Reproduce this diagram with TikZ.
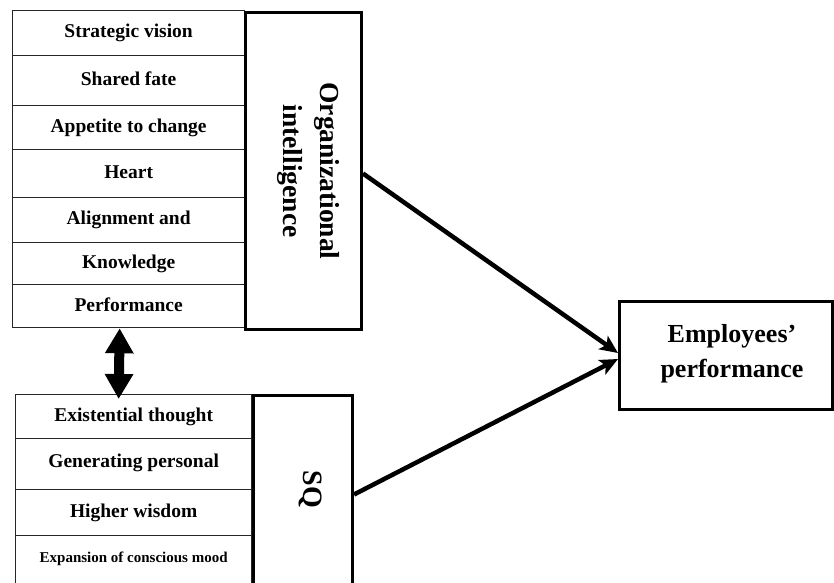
\documentclass[tikz,border=0pt]{standalone}
\usepackage{fontspec}
\setmainfont{Liberation Serif}
\usetikzlibrary{arrows.meta}
\newcommand{\up}[2][3pt]{\raisebox{#1}{#2}}
\begin{document}
\begin{tikzpicture}[x=1pt,y=-1pt,
  rowbox/.style={draw=black!85,line width=1.3pt,rectangle,inner sep=0pt,anchor=north west,
     font=\fontsize{19.5}{22}\selectfont\bfseries,align=center},
  bigbox/.style={draw=black,line width=3pt,rectangle,inner sep=0pt,anchor=north west},
  bigtext/.style={font=\fontsize{26}{35}\selectfont\bfseries,align=center},
  arr/.style={line width=4.5pt,-{Stealth[length=18pt,width=16pt,inset=4pt]}},
  dbl/.style={line width=10pt,{Triangle[length=25pt,width=27pt]}-{Triangle[length=25pt,width=27pt]}}]
\useasboundingbox (0,0) rectangle (834,582);
\begin{scope}
\clip (0,0) rectangle (834,582);
% top list
\node[rowbox,minimum width=232pt,minimum height=45pt] (r1) at (12,10) {\up{Strategic vision}};
\node[rowbox,minimum width=232pt,minimum height=50pt] (r2) at (12,55) {\up[4pt]{Shared fate}};
\node[rowbox,minimum width=232pt,minimum height=44pt] (r3) at (12,105) {\up{Appetite to change}};
\node[rowbox,minimum width=232pt,minimum height=48pt] (r4) at (12,149) {\up[4pt]{Heart}};
\node[rowbox,minimum width=232pt,minimum height=45pt] (r5) at (12,197) {\up{Alignment and}};
\node[rowbox,minimum width=232pt,minimum height=42pt] (r6) at (12,242) {\up{Knowledge}};
\node[rowbox,minimum width=232pt,minimum height=43pt] (r7) at (12,284) {\up{Performance}};
\node[bigbox,minimum width=116pt,minimum height=317pt] (oi) at (244,11) {};
\node[bigtext,rotate=-90,font=\fontsize{27.5}{36}\selectfont\bfseries] (oit) at ([xshift=5pt]oi.center) {Organizational\\intelligence};
% bottom list
\node[rowbox,minimum width=236pt,minimum height=44pt] (s1) at (15,394) {\up{Existential thought}};
\node[rowbox,minimum width=236pt,minimum height=51pt] (s2) at (15,438) {\up[6pt]{Generating personal}};
\node[rowbox,minimum width=236pt,minimum height=46pt] (s3) at (15,489) {\up[4pt]{Higher wisdom}};
\node[rowbox,minimum width=236pt,minimum height=55pt,font=\fontsize{15}{17}\selectfont\bfseries] (s4) at (15,535) {\up[12pt]{Expansion of conscious mood}};
\node[bigbox,minimum width=99pt,minimum height=196pt] (sq) at (252,394) {};
\node[bigtext,rotate=-90,font=\fontsize{28}{33}\selectfont\bfseries] (sqt) at ([xshift=7pt,yshift=4pt]sq.center) {SQ};
% outcome
\node[bigbox,minimum width=213pt,minimum height=108pt] (emp) at (618,300) {};
\node[bigtext] (empt) at ([xshift=6pt,yshift=2pt]emp.center) {Employees’\\performance};
% connectors
\draw[arr] ([yshift=-2.5pt]oi.east) -- ([yshift=2.5pt]emp.west);
\draw[arr] ([yshift=-1pt]sq.east) -- ([yshift=-3.5pt]emp.west);
\coordinate (dt) at ([xshift=-9pt]r7.south);
\coordinate (db) at ([xshift=-15pt,yshift=-5pt]s1.north);
\draw[dbl] (dt) -- (db);
\end{scope}
\end{tikzpicture}
\end{document}
